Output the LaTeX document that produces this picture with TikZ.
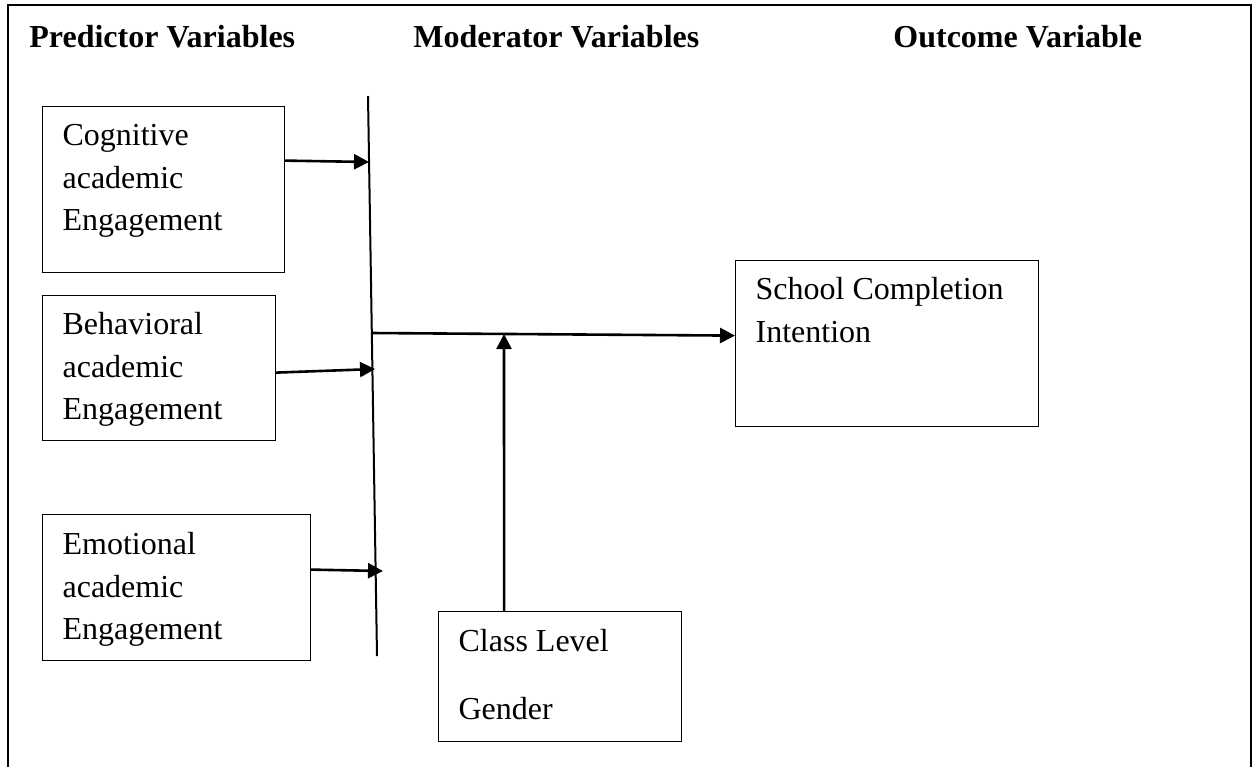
\documentclass[tikz,border=0pt]{standalone}
\usepackage{fontspec}
\setmainfont{Liberation Serif}
\usetikzlibrary{arrows.meta}
\newcommand\diagfont{\fontsize{16}{21.25}\selectfont}
\tikzset{
  varbox/.style={draw, line width=0.6pt, anchor=north west, align=flush left,
    inner xsep=10pt, inner ysep=0pt, text height=19.5pt},
  head/.style={anchor=base west, inner sep=0pt, font=\diagfont\bfseries},
  arr/.style={line width=1.3pt, -{Triangle[length=7.5pt,width=7.5pt]}},
}

\begin{document}
\begin{tikzpicture}[x=0.5pt,y=-0.5pt,font=\diagfont]
  \useasboundingbox (0,0) rectangle (1256,767);
  \draw[line width=0.9pt] (8,767) -- (8,5) -- (1251,5) -- (1251,767);

  \node[head] (hpred) at (29,47) {Predictor Variables};
  \node[head] (hmod) at (413,47) {Moderator Variables};
  \node[head] (hout) at (893,47) {Outcome Variable};

  \node[varbox, text width=101pt, text depth=63.5pt] (cog) at (42,106)
    {Cognitive\\academic\\Engagement};
  \node[varbox, text width=96.5pt, text depth=53pt] (beh) at (42,295)
    {Behavioral\\academic\\Engagement};
  \node[varbox, text width=114pt, text depth=53pt, text height=20pt] (emo) at (42,514)
    {Emotional\\academic\\Engagement};
  \node[varbox, text width=131.5pt, text depth=63.5pt] (sci) at (735,260)
    {School Completion\\Intention};
  \node[varbox, text width=101.5pt, text depth=45pt, text height=20pt] (mod) at (438,611)
    {Class Level\\[12.75pt]Gender};

  \coordinate (bt) at (368,96);
  \coordinate (bb) at (377,656);
  \coordinate (t1) at (369,162);
  \coordinate (t2) at (375,369);
  \coordinate (t3) at (383,571);
  \coordinate (bm) at (372,333);
  \coordinate (jn) at (504,334);

  \draw[line width=1pt] (bt) -- (bb);
  \draw[arr] ([yshift=14.5pt]cog.east) -- (t1);
  \draw[arr] ([yshift=-2.25pt]beh.east) -- (t2);
  \draw[arr] ([yshift=9pt]emo.east) -- (t3);
  \draw[arr] (bm) -- ([yshift=4pt]sci.west);
  \draw[arr] ([xshift=-28pt]mod.north) -- (jn);
\end{tikzpicture}
\end{document}
